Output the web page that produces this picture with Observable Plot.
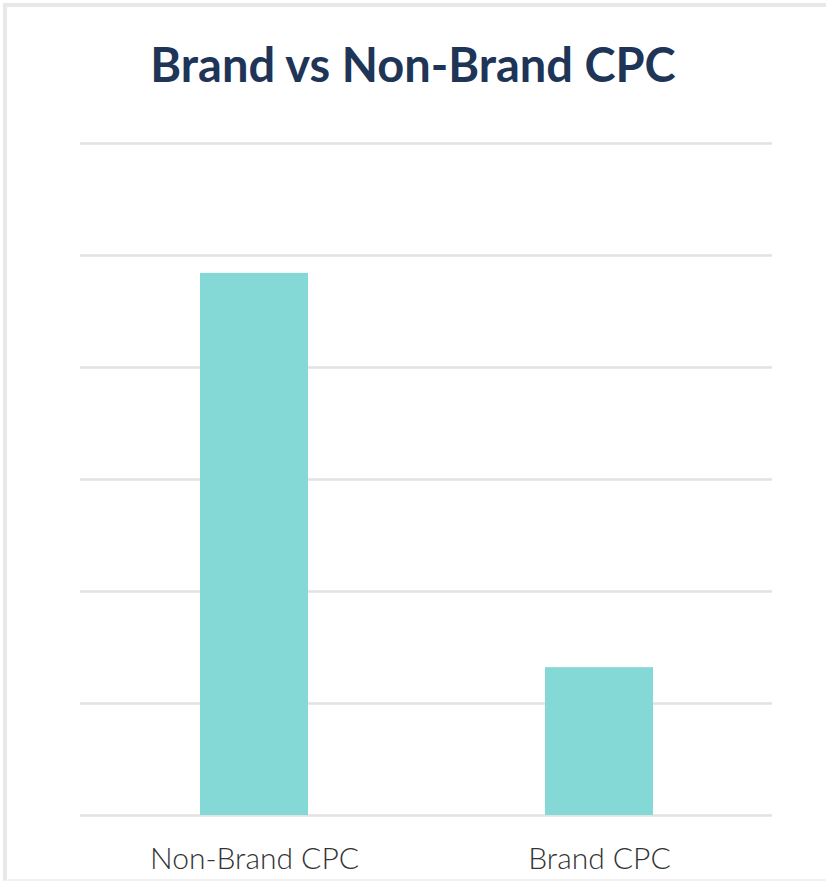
<!DOCTYPE html>
<html>
<head>
<meta charset="utf-8">
<script src="https://cdn.jsdelivr.net/npm/d3@7"></script>
<script src="https://cdn.jsdelivr.net/npm/@observablehq/plot@0.6"></script>
<style>
  html, body { margin: 0; padding: 0; background: #fff; }
  body { width: 826px; height: 885px; position: relative; overflow: hidden; font-family: Lato, "Open Sans", sans-serif; }
  #frame { position: absolute; left: 3px; top: 3px; width: 900px; height: 878px; border-left: 4px solid #e8e8e8; border-top: 4px solid #e8e8e8; border-bottom: 2px solid #f2f2f2; box-sizing: border-box; }
  #title { position: absolute; left: 0; width: 826px; top: 36px; text-align: center; font-family: Lato, sans-serif; font-weight: 700; font-size: 47px; color: #1e3557; margin: 0; line-height: 1.2; }
  #chart { position: absolute; left: 0; top: 110px; }
</style>
</head>
<body>
<div id="frame"></div>
<h1 id="title">Brand vs Non-Brand CPC</h1>
<div id="chart"></div>
<script>
const categories = ["Non-Brand CPC", "Brand CPC"];
const values = [4.84, 1.32];
const gridTicks = [0, 1, 2, 3, 4, 5, 6];

const data = categories.map((c, i) => ({ category: c, value: values[i] }));

const plot = Plot.plot({
  width: 826,
  height: 770,
  marginTop: 33,
  marginBottom: 65,
  marginLeft: 80,
  marginRight: 54,
  style: { fontFamily: "Lato, sans-serif", background: "transparent" },
  x: { domain: categories, paddingInner: 0.687, paddingOuter: 0.346, label: null, tickSize: 0, tickPadding: 0 },
  y: { domain: [0, 6], axis: null },
  marks: [
    Plot.ruleY(gridTicks, { stroke: "#e2e2e2", strokeWidth: 2.5 }),
    Plot.barY(data, { x: "category", y: "value", fill: "#84d8d5" }),
    Plot.axisX({ tickSize: 0, tickPadding: 32, fontSize: 30, fill: "#333", label: null, fontWeight: 300 })
  ]
});
document.getElementById("chart").appendChild(plot);
</script>
</body>
</html>
